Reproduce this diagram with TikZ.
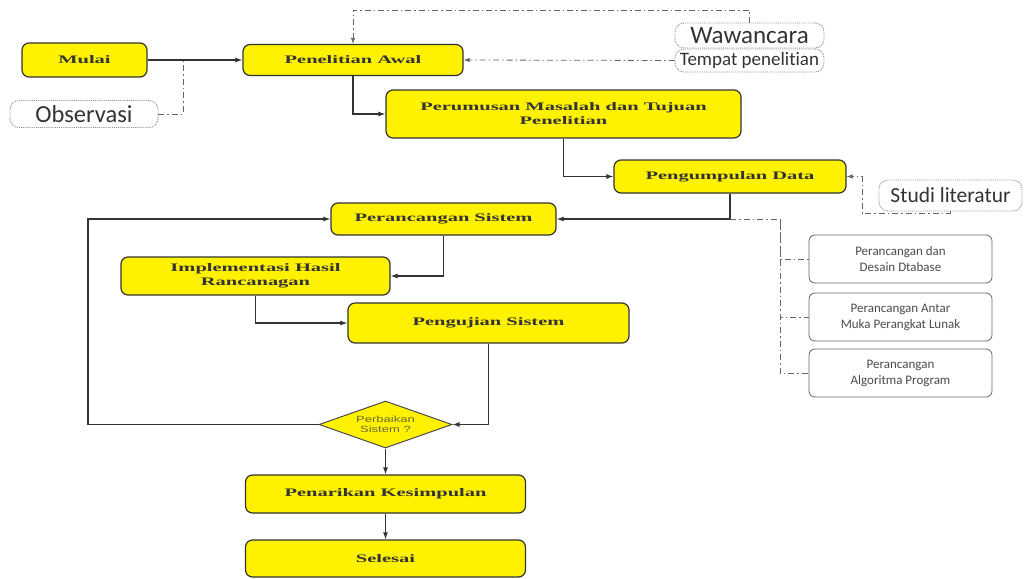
\documentclass[tikz,border=0pt]{standalone}
\usepackage{fontspec}
\usetikzlibrary{shapes.geometric,arrows.meta}
\newfontfamily\boxfont{Liberation Serif}[FakeStretch=1.78]
\newfontfamily\decfont{Liberation Sans}[FakeStretch=1.45]
\newfontfamily\labfont{Carlito}[Ligatures=NoCommon]
\definecolor{olivetext}{RGB}{105,105,55}
\begin{document}
\begin{tikzpicture}[x=1pt,y=-1pt,
  ybox/.style={draw=black!80, line width=1.2pt, fill=yellow, rounded corners=7pt,
    font=\boxfont\bfseries\fontsize{11.5}{14}\selectfont, text=black!80, align=center, inner sep=0pt},
  lbox/.style={draw=black!45, densely dotted, line width=0.9pt, rounded corners=9pt, fill=white,
    inner sep=0pt, text=black!80},
  gbox/.style={draw=black!60, line width=0.8pt, rounded corners=6pt, fill=white, inner sep=0pt,
    align=center, text=black!70, font=\labfont\fontsize{13}{16}\selectfont,
    minimum width=183pt, minimum height=48pt},
  arr/.style={draw=black!80, line width=1.1pt, -{Latex[length=7pt,width=5pt]}},
  dd/.style={draw=black!60, line width=0.8pt, dash pattern=on 6pt off 3pt on 1.5pt off 3pt},
  dda/.style={dd, -{Latex[length=6pt,width=4.5pt]}}
]
\useasboundingbox (0,0) rectangle (1024,578);
% main nodes
\node[ybox, minimum width=125pt, minimum height=34pt] (mulai) at (84.5,60) {Mulai};
\node[ybox, minimum width=220pt, minimum height=31pt] (awal) at (353,60) {Penelitian Awal};
\node[ybox, minimum width=355pt, minimum height=48pt] (perum) at (563.5,114) {Perumusan Masalah dan Tujuan\\Penelitian};
\node[ybox, minimum width=232pt, minimum height=33pt] (data) at (730,176.5) {Pengumpulan Data};
\node[ybox, minimum width=225pt, minimum height=32pt] (sis) at (443.5,219) {Perancangan Sistem};
\node[ybox, minimum width=269pt, minimum height=38pt] (impl) at (255.5,276) {Implementasi Hasil\\Rancanagan};
\node[ybox, minimum width=281pt, minimum height=40pt] (uji) at (488.5,323) {Pengujian Sistem};
\node[diamond, aspect=2.9, draw=black!70, line width=1pt, fill=yellow, minimum width=133pt, minimum height=47pt,
  inner sep=0pt, align=center, text=olivetext, font=\decfont\fontsize{9}{9.5}\selectfont] (dec) at (385.5,424.5) {Perbaikan\\Sistem ?};
\node[ybox, minimum width=280pt, minimum height=38pt] (kes) at (385.5,494) {Penarikan Kesimpulan};
\node[ybox, minimum width=280pt, minimum height=37pt] (sel) at (385.5,558.5) {Selesai};
% label boxes
\node[lbox, minimum width=148pt, minimum height=27pt, font=\labfont\fontsize{24.5}{26}\selectfont] (obs) at (84,114) {Observasi};
\node[lbox, minimum width=149pt, minimum height=25pt, font=\labfont\fontsize{25}{26}\selectfont] (waw) at (749.5,35.5) {Wawancara};
\node[lbox, minimum width=149pt, minimum height=23pt, font=\labfont\fontsize{19}{20}\selectfont] (tmp) at (749.5,60.5) {Tempat penelitian};
\node[lbox, minimum width=143pt, minimum height=31pt, font=\labfont\fontsize{21.5}{23}\selectfont] (studi) at (950.5,195.5) {Studi literatur};
% grey boxes
\node[gbox] (db) at (900.5,259) {Perancangan dan\\Desain Dtabase};
\node[gbox] (ui) at (900.5,317) {Perancangan Antar\\Muka Perangkat Lunak};
\node[gbox] (algo) at (900.5,373) {Perancangan\\Algoritma Program};
% coordinates
\coordinate (j1) at (183,60);
\coordinate (wtop) at (749.5,10);
\coordinate (sj) at (862,213);
\coordinate (b0) at (730,219);
\coordinate (bx) at (780,219);
\coordinate (lp) at (88,424.5);
% connectors
\draw[arr] (mulai) -- (awal);
\draw[dd] (obs.east) -| (j1);
\draw[dda] (waw.north) -- (wtop) -| (awal.north);
\draw[dda] (tmp.west) -- (awal.east);
\draw[arr] (awal.south) |- (perum.west);
\draw[arr] (perum.south) |- (data.west);
\draw[dda] (studi.south) |- (sj) |- (data.east);
\draw[arr] (data.south) |- (sis.east);
\draw[dd] (b0) -- (bx) |- (db.west);
\draw[dd] (bx) |- (ui.west);
\draw[dd] (bx) |- (algo.west);
\draw[arr] (sis.south) |- (impl.east);
\draw[arr] (impl.south) |- (uji.west);
\draw[arr] (uji.south) |- (dec.east);
\draw[arr] (dec.west) -- (lp) |- (sis.west);
\draw[arr] (dec.south) -- (kes.north);
\draw[arr] (kes.south) -- (sel.north);
\end{tikzpicture}
\end{document}
